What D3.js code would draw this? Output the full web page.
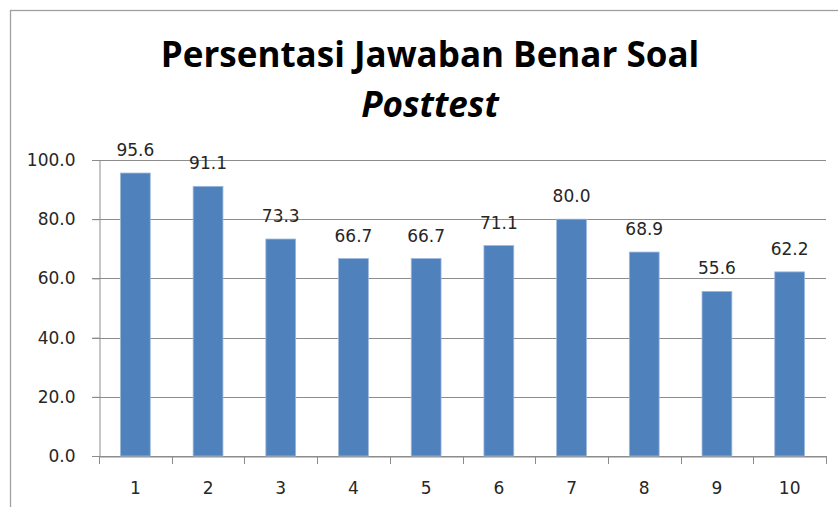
<!DOCTYPE html>
<html><head><meta charset="utf-8">
<script src="https://cdn.jsdelivr.net/npm/d3@7"></script>
<style>body{margin:0;background:#fff}svg{display:block}</style>
</head><body>
<svg id="c" width="838" height="507"></svg>
<script>
const categories = ["1","2","3","4","5","6","7","8","9","10"];
const values = [95.6, 91.1, 73.3, 66.7, 66.7, 71.1, 80.0, 68.9, 55.6, 62.2];
const yTicks = [0, 20, 40, 60, 80, 100];
const titleLine1 = "Persentasi Jawaban Benar Soal";
const titleLine2 = "Posttest";

const svg = d3.select("#c");
svg.append("rect").attr("x",10.5).attr("y",10.5).attr("width",840).attr("height",510)
  .attr("fill","#fff").attr("stroke","#a0a0a0").attr("stroke-width",1.3);

const m = {left:99, right:826, top:160, bottom:456};
const x = d3.scaleBand().domain(categories).range([m.left, m.right]).paddingInner(0.59).paddingOuter(0.295);
const xb = d3.scaleBand().domain(categories).range([m.left, m.right]);
const y = d3.scaleLinear().domain([0,100]).range([m.bottom, m.top]);

const font = "'DejaVu Sans', sans-serif";
const tfont = "'Open Sans', 'DejaVu Sans', sans-serif";

// gridlines
svg.append("g").selectAll("line").data(yTicks).join("line")
  .attr("x1", m.left-7).attr("x2", m.right)
  .attr("y1", d=>Math.round(y(d))+0.5).attr("y2", d=>Math.round(y(d))+0.5)
  .attr("stroke","#8c8c8c").attr("stroke-width",1);

// y axis
const yAxis = svg.append("g").attr("transform",`translate(${m.left+0.5},0)`)
  .call(d3.axisLeft(y).tickValues(yTicks).tickFormat(d3.format(".1f")).tickSize(7).tickPadding(17));
yAxis.select(".domain").attr("stroke","#8c8c8c");
yAxis.selectAll(".tick line").attr("stroke","#8c8c8c");
yAxis.selectAll("text").attr("font-family",font).attr("font-size",17).attr("fill","#262626");

// x axis
const xAxis = svg.append("g").attr("transform",`translate(0,${Math.round(y(0))+0.5})`)
  .call(d3.axisBottom(xb).tickSize(0).tickPadding(25));
xAxis.select(".domain").attr("stroke","#8c8c8c");
xAxis.selectAll("text").attr("font-family",font).attr("font-size",17).attr("fill","#262626");
// tick marks at category boundaries
const bounds = categories.map(c=>xb(c)).concat([m.right]);
svg.append("g").selectAll("line").data(bounds).join("line")
  .attr("x1",d=>Math.round(d)+0.5).attr("x2",d=>Math.round(d)+0.5)
  .attr("y1",y(0)).attr("y2",y(0)+8).attr("stroke","#8c8c8c");

// bars
svg.append("g").selectAll("rect").data(values).join("rect")
  .attr("x",(d,i)=>x(categories[i])).attr("width",x.bandwidth())
  .attr("y",d=>y(d)).attr("height",d=>y(0)-y(d))
  .attr("fill","#4f81bd").attr("stroke","#9db8db").attr("stroke-width",0.8);

// labels
svg.append("g").selectAll("text").data(values).join("text")
  .attr("x",(d,i)=>x(categories[i])+x.bandwidth()/2)
  .attr("y",d=>y(d)-17)
  .attr("text-anchor","middle").attr("font-family",font).attr("font-size",17).attr("fill","#262626")
  .text(d=>d.toFixed(1));

// title
svg.append("text").attr("x",430).attr("y",67).attr("text-anchor","middle")
  .attr("font-family",tfont).attr("font-weight","bold").attr("font-size",35).attr("fill","#000")
  .text(titleLine1);
svg.append("text").attr("x",430).attr("y",117).attr("text-anchor","middle")
  .attr("font-family",tfont).attr("font-weight","bold").attr("font-style","italic").attr("font-size",35).attr("fill","#000")
  .text(titleLine2);
</script>
</body></html>
